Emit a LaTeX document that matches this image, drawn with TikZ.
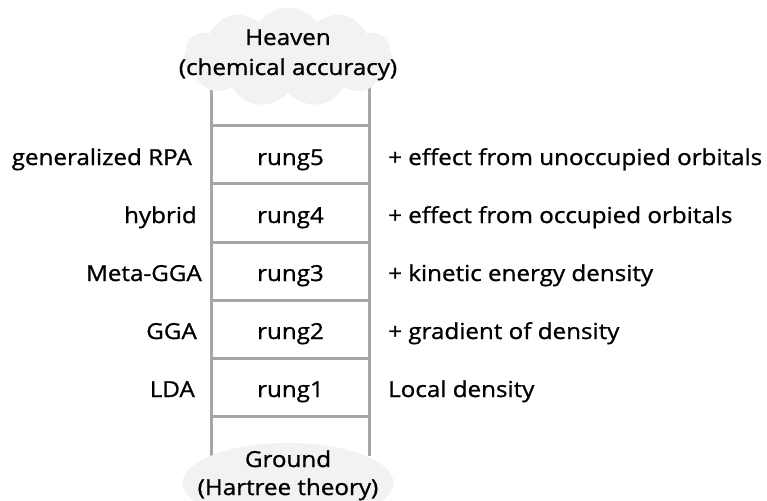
\documentclass[tikz,border=0pt]{standalone}
\usepackage{fontspec}
\setmainfont[FakeStretch=1.1,FakeBold=1]{Open Sans}
\usetikzlibrary{shapes.symbols,shapes.geometric}
\definecolor{railgray}{HTML}{A6A6A6}
\definecolor{cloudgray}{HTML}{F2F2F2}
\tikzset{
  rail/.style={draw=railgray,line width=3pt},
  lbl/.style={inner sep=0pt,font=\fontsize{22}{26}\selectfont},
  leftlbl/.style={lbl,anchor=base east},
  rightlbl/.style={lbl,anchor=base west},
  runglbl/.style={lbl,anchor=base},
  endlbl/.style={inner sep=0pt,align=center,font=\fontsize{22}{28}\selectfont},
}
\begin{document}
\begin{tikzpicture}[x=1pt,y=-1pt]
\useasboundingbox (0,0) rectangle (767,500);
\clip (0,0) rectangle (767,500);
% rails
\coordinate (lt) at (211.5,80);
\coordinate (lb) at (211.5,456);
\coordinate (rt) at (369.5,80);
\coordinate (rb) at (369.5,456);
\draw[rail] (lt) -- (lb);
\draw[rail] (rt) -- (rb);
% rungs
\foreach \i/\y in {a/125,b/183.5,c/242,d/300,e/358,f/416}{
  \coordinate (L\i) at (211.5,\y);
  \coordinate (R\i) at (369.5,\y);
  \draw[rail] (L\i) -- (R\i);
}
% heaven cloud
\node[cloud,cloud puffs=11,cloud puff arc=110,aspect=2.1,fill=cloudgray,
      minimum width=209pt,minimum height=99pt,inner sep=0pt] (heaven) at (288,57) {};
\node[endlbl,anchor=base] (heaventxt) at (288,45) {Heaven};
\node[endlbl,anchor=base] (heavensub) at (288,75) {(chemical accuracy)};
% ground ellipse
\node[ellipse,fill=cloudgray,minimum width=211pt,minimum height=80pt,inner sep=0pt] (ground) at (288,483) {};
\node[endlbl,anchor=base] (groundtxt) at (288,467) {Ground};
\node[endlbl,anchor=base] (groundsub) at (288,495) {(Hartree theory)};
% rung labels
\node[runglbl] (r5) at (290.5,165) {rung5};
\node[runglbl] (r4) at (290.5,223) {rung4};
\node[runglbl] (r3) at (290.5,281) {rung3};
\node[runglbl] (r2) at (290.5,339) {rung2};
\node[runglbl] (r1) at (290.5,397) {rung1};
% left labels
\node[leftlbl] (m5) at (192,165) {generalized RPA};
\node[leftlbl] (m4) at (197,223) {hybrid};
\node[leftlbl] (m3) at (202,281) {Meta-GGA};
\node[leftlbl] (m2) at (197,339) {GGA};
\node[leftlbl] (m1) at (195,397) {LDA};
% right labels
\node[rightlbl] (d5) at (388,165) {+ effect from unoccupied orbitals};
\node[rightlbl] (d4) at (388,223) {+ effect from occupied orbitals};
\node[rightlbl] (d3) at (388,281) {+ kinetic energy density};
\node[rightlbl] (d2) at (388,339) {+ gradient of density};
\node[rightlbl] (d1) at (388,397) {Local density};
\end{tikzpicture}
\end{document}
